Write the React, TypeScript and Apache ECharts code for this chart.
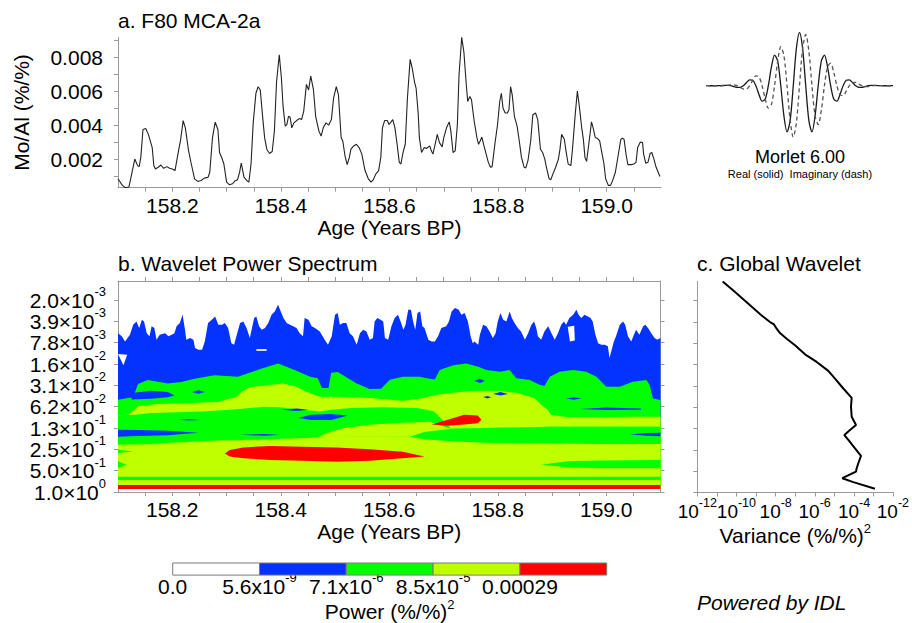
import React, { useEffect, useRef } from "react";
import * as echarts from "echarts";

const FONT = '"Liberation Sans", Arial, Helvetica, sans-serif';
const AXIS_GRAY = "#9a9a9a";
const FS = 21;

// ---------------- Panel a: Mo/Al time series ----------------
const ageYears = [
  158.100,158.108,158.114,158.120,158.124,158.131,158.136,158.139,158.142,158.146,
  158.151,158.156,158.163,158.166,158.169,158.174,158.179,158.184,158.190,158.195,
  158.200,158.205,158.212,158.215,158.220,158.224,158.230,158.235,158.241,158.247,
  158.253,158.259,158.266,158.269,158.274,158.279,158.284,158.287,158.292,158.295,
  158.300,158.305,158.311,158.315,158.320,158.324,158.327,158.332,158.337,158.341,
  158.345,158.349,158.354,158.358,158.362,158.366,158.370,158.374,158.379,158.384,
  158.388,158.392,158.397,158.401,158.404,158.408,158.411,158.414,158.417,158.420,
  158.424,158.429,158.434,158.438,158.442,158.447,158.451,158.455,158.460,158.464,
  158.470,158.474,158.478,158.483,158.488,158.493,158.497,158.502,158.506,158.511,
  158.514,158.518,158.522,158.526,158.529,158.534,158.539,158.544,158.549,158.555,
  158.561,158.566,158.570,158.575,158.580,158.584,158.587,158.591,158.596,158.599,
  158.603,158.606,158.610,158.614,158.618,158.621,158.625,158.629,158.633,158.638,
  158.642,158.646,158.649,158.653,158.655,158.659,158.664,158.668,158.674,158.677,
  158.680,158.684,158.688,158.692,158.697,158.700,158.705,158.710,158.713,158.717,
  158.721,158.725,158.728,158.733,158.737,158.741,158.744,158.748,158.751,158.756,
  158.761,158.764,158.767,158.770,158.774,158.778,158.782,158.786,158.789,158.794,
  158.799,158.803,158.806,158.809,158.813,158.817,158.820,158.823,158.826,158.830,
  158.835,158.839,158.843,158.848,158.851,158.855,158.860,158.864,158.869,158.873,
  158.878,158.882,158.886,158.889,158.894,158.897,158.901,158.906,158.911,158.914,
  158.917,158.922,158.925,158.929,158.934,158.937,158.942,158.946,158.950,158.954,
  158.957,158.960,158.963,158.967,158.972,158.975,158.979,158.983,158.987,158.991,
  158.995,158.998,159.003,159.007,159.011,159.016,159.021,159.026,159.029,159.032,
  159.036,159.039,159.045,159.050,159.054,159.057,159.062,159.066,159.068,159.072,
  159.076,159.080,159.083,159.087,159.091,159.098,
];
const moAl = [
  0.000864,0.000477,0.000341,0.000380,0.000961,0.002027,0.001640,0.001581,0.002124,0.003771,
  0.003829,0.003481,0.002705,0.001640,0.001446,0.001543,0.001678,0.001484,0.001581,0.001484,
  0.001446,0.001349,0.002609,0.003093,0.004295,0.003868,0.002512,0.001736,0.000864,0.000709,
  0.000767,0.000903,0.000961,0.001252,0.003287,0.004198,0.003771,0.002415,0.002027,0.001736,
  0.000671,0.000516,0.000574,0.000729,0.000806,0.001252,0.001795,0.000961,0.000767,0.000671,
  0.001736,0.004159,0.005903,0.006291,0.006097,0.004643,0.003287,0.002609,0.002357,0.002473,
  0.003674,0.006581,0.008171,0.006775,0.005128,0.003965,0.004062,0.004547,0.004488,0.003868,
  0.004159,0.004295,0.004411,0.004353,0.004837,0.006426,0.006097,0.006911,0.006097,0.004547,
  0.003674,0.003384,0.003868,0.004159,0.004023,0.004353,0.005612,0.006291,0.005806,0.003287,
  0.003093,0.002221,0.001698,0.002124,0.002609,0.002802,0.002899,0.002705,0.002318,0.001349,
  0.000864,0.000671,0.000806,0.001155,0.001349,0.002124,0.003868,0.004295,0.004295,0.004062,
  0.004217,0.004353,0.003868,0.002899,0.001833,0.001736,0.002415,0.002899,0.005612,0.007899,
  0.007357,0.006581,0.006194,0.004643,0.003287,0.002415,0.002705,0.002647,0.002802,0.002512,
  0.002318,0.002899,0.003481,0.002996,0.002744,0.003287,0.003868,0.004217,0.003674,0.002415,
  0.002512,0.004062,0.006969,0.009198,0.008326,0.006581,0.005419,0.005709,0.005516,0.004256,
  0.003287,0.002899,0.003093,0.003326,0.002802,0.002318,0.001833,0.001543,0.001581,0.002899,
  0.004062,0.005419,0.005903,0.005031,0.004740,0.004740,0.004934,0.006291,0.005806,0.004547,
  0.003965,0.003093,0.002124,0.001543,0.001504,0.001930,0.003093,0.004643,0.004740,0.004353,
  0.002609,0.002415,0.002027,0.001543,0.000864,0.000806,0.001155,0.001543,0.002027,0.002609,
  0.003481,0.003190,0.002512,0.001736,0.001640,0.002609,0.004643,0.006039,0.005031,0.003868,
  0.003190,0.002124,0.001891,0.002899,0.004217,0.003868,0.003287,0.003248,0.003093,0.002415,
  0.001736,0.000864,0.000477,0.000477,0.000767,0.001252,0.002221,0.003190,0.003248,0.003190,
  0.002221,0.001698,0.001698,0.001736,0.001833,0.002705,0.003035,0.002996,0.002318,0.001775,
  0.001833,0.002357,0.002415,0.002027,0.001543,0.001000,
];
const ageRange = [158.1, 159.1];
const moAlRange = [0.00034, 0.0092];
const ageTicks = [158.15,158.2,158.25,158.3,158.35,158.4,158.45,158.5,158.55,158.6,158.65,158.7,158.75,158.8,158.85,158.9,158.95,159.0,159.05];
const ageLabelTicks = [158.2, 158.4, 158.6, 158.8, 159.0];
const moAlTicks = [0.001,0.002,0.003,0.004,0.005,0.006,0.007,0.008,0.009];
const moAlLabelTicks = [0.002, 0.004, 0.006, 0.008];

// ---------------- Panel b: wavelet power spectrum ----------------
// power levels: 0 = <5.6e-9, 1 = 5.6e-9.., 2 = 7.1e-6.., 3 = 8.5e-5.., 4 = >0.00029
const powerLevelMantissa = ["0.0", "5.6x10", "7.1x10", "8.5x10", "0.00029"];
const powerLevelExponent = ["", "-9", "-6", "-5", ""];
const levelColors = ["#ffffff", "#0433ff", "#00ff00", "#bfff00", "#ff0000"];

const periodRange = [0.00105, 1];
const periodTicks = [0.001953125, 0.00390625, 0.0078125, 0.015625, 0.03125, 0.0625, 0.125, 0.25, 0.5, 1];
const periodMantissa = ["2.0", "3.9", "7.8", "1.6", "3.1", "6.2", "1.3", "2.5", "5.0", "1.0"];
const periodExponent = ["-3", "-3", "-3", "-2", "-2", "-2", "-1", "-1", "-1", "0"];

// Contour outlines: points are [age, log2(period)]
const spectrumFloor = -0.14;
const blueTop = [
  [158.100,-7.45],[158.107,-7.30],[158.113,-7.06],[158.122,-7.38],[158.128,-7.84],[158.134,-8.00],[158.139,-7.69],[158.144,-8.08],[158.148,-8.00],[158.153,-7.45],
  [158.158,-7.30],[158.162,-7.77],[158.167,-7.69],[158.171,-7.14],[158.177,-7.38],[158.187,-7.45],[158.193,-7.30],[158.199,-7.38],[158.204,-7.45],[158.208,-7.77],
  [158.214,-7.92],[158.219,-8.31],[158.223,-7.69],[158.226,-7.14],[158.233,-7.22],[158.239,-7.14],[158.242,-6.75],[158.248,-6.67],[158.255,-6.67],[158.260,-7.06],
  [158.266,-7.92],[158.273,-8.08],[158.279,-8.23],[158.285,-7.84],[158.292,-7.84],[158.297,-7.92],[158.303,-7.69],[158.309,-6.98],[158.314,-6.91],[158.319,-7.38],
  [158.325,-7.92],[158.331,-8.00],[158.337,-7.69],[158.343,-7.22],[158.351,-8.16],[158.355,-8.23],[158.360,-7.77],[158.365,-7.61],[158.371,-7.69],[158.377,-7.92],
  [158.383,-8.31],[158.389,-8.47],[158.395,-8.78],[158.400,-8.47],[158.405,-8.16],[158.411,-7.92],[158.417,-7.84],[158.423,-7.77],[158.429,-7.69],[158.435,-7.45],
  [158.441,-7.30],[158.444,-8.16],[158.451,-8.08],[158.457,-7.77],[158.463,-7.69],[158.472,-7.53],[158.481,-7.14],[158.487,-6.91],[158.494,-7.30],[158.500,-8.31],
  [158.505,-8.39],[158.509,-7.84],[158.515,-7.92],[158.521,-7.92],[158.527,-7.45],[158.533,-7.30],[158.540,-6.91],[158.546,-7.45],[158.552,-7.61],[158.558,-7.53],
  [158.564,-7.14],[158.570,-7.22],[158.573,-8.00],[158.578,-8.16],[158.584,-8.08],[158.589,-8.00],[158.592,-7.22],[158.598,-7.14],[158.604,-7.77],[158.610,-8.16],
  [158.616,-8.31],[158.621,-8.00],[158.626,-7.61],[158.630,-7.84],[158.635,-8.55],[158.640,-8.55],[158.644,-8.00],[158.648,-7.61],[158.652,-8.39],[158.657,-8.47],
  [158.661,-7.77],[158.665,-7.69],[158.672,-7.14],[158.678,-7.06],[158.684,-7.06],[158.690,-7.30],[158.696,-7.69],[158.705,-7.77],[158.710,-8.00],[158.715,-8.47],
  [158.721,-8.63],[158.728,-8.55],[158.733,-8.31],[158.739,-8.39],[158.745,-8.00],[158.750,-7.30],[158.754,-6.98],[158.757,-7.06],[158.764,-6.91],[158.767,-7.38],
  [158.773,-7.84],[158.779,-7.77],[158.785,-7.53],[158.791,-7.22],[158.796,-7.45],[158.800,-8.00],[158.805,-8.39],[158.810,-8.08],[158.816,-8.00],[158.822,-8.47],
  [158.826,-8.16],[158.831,-7.92],[158.837,-7.69],[158.843,-7.53],[158.850,-7.14],[158.856,-7.45],[158.862,-7.84],[158.867,-8.00],[158.871,-7.69],[158.874,-7.30],
  [158.880,-7.14],[158.886,-7.53],[158.893,-7.77],[158.899,-7.45],[158.905,-7.14],[158.911,-7.45],[158.917,-7.84],[158.922,-8.00],[158.926,-7.84],[158.932,-8.16],
  [158.939,-8.31],[158.945,-8.55],[158.949,-8.31],[158.954,-8.16],[158.960,-8.31],[158.966,-8.23],[158.971,-8.16],[158.975,-8.00],[158.980,-7.38],[158.985,-6.98],
  [158.991,-6.91],[158.997,-6.91],[159.003,-6.83],[159.006,-6.28],[159.010,-6.67],[159.014,-7.06],[159.018,-7.30],[159.025,-7.84],[159.031,-8.00],[159.035,-7.84],
  [159.040,-7.30],[159.046,-7.06],[159.051,-7.38],[159.055,-7.61],[159.061,-7.38],[159.068,-7.77],[159.072,-7.84],[159.077,-7.69],[159.083,-7.45],[159.089,-7.22],
  [159.094,-7.14],[159.100,-7.22],
];
const greenTop1 = [
  [158.100,-4.33],[158.128,-4.44],[158.137,-5.06],[158.155,-5.25],[158.192,-5.09],[158.217,-5.16],[158.241,-5.31],[158.278,-5.47],[158.321,-5.41],[158.364,-5.78],
  [158.395,-6.03],[158.429,-5.69],[158.454,-5.41],[158.468,-5.34],[158.476,-4.875],[158.488,-4.875],[158.493,-5.59],[158.505,-5.625],[158.540,-5.09],[158.564,-4.83],
  [158.585,-4.84],[158.601,-5.27],[158.625,-5.41],[158.656,-5.41],[158.675,-5.31],[158.684,-5.28],[158.693,-5.72],[158.718,-5.95],[158.742,-6.03],[158.764,-5.875],
  [158.779,-5.72],[158.804,-5.64],[158.822,-5.72],[158.834,-5.33],[158.859,-5.25],[158.877,-5.03],[158.886,-4.97],[158.896,-5.41],[158.914,-5.64],[158.939,-5.72],
  [158.963,-5.64],[158.982,-5.41],[159.000,-4.94],[159.025,-4.94],[159.049,-5.17],[159.074,-5.25],[159.080,-5.02],[159.086,-4.39],[159.100,-4.31],
];
const ygTop1 = [
  [158.100,-3.59],[158.119,-3.625],[158.137,-4.02],[158.174,-4.125],[158.223,-4.16],[158.284,-4.22],[158.319,-4.47],[158.328,-4.70],[158.343,-4.91],[158.380,-5.02],
  [158.404,-5.09],[158.429,-4.94],[158.447,-4.70],[158.472,-4.47],[158.503,-4.47],[158.564,-4.41],[158.625,-4.28],[158.656,-4.375],[158.689,-4.56],[158.714,-4.64],
  [158.745,-4.72],[158.775,-4.75],[158.806,-4.72],[158.837,-4.64],[158.867,-4.41],[158.880,-4.09],[158.892,-3.86],[158.898,-3.625],[158.929,-3.5],[158.990,-3.5],
  [159.051,-3.53],[159.100,-3.53],
];
const greenTop2 = [
  [158.100,-3.59],[158.119,-3.61],[158.137,-3.64],[158.161,-3.70],[158.257,-3.77],[158.319,-3.875],[158.368,-4.0],[158.398,-3.97],[158.472,-3.77],[158.493,-3.86],
  [158.530,-3.94],[158.591,-3.97],[158.652,-3.94],[158.683,-3.78],[158.714,-2.97],[158.775,-3.0],[158.837,-3.03],[158.898,-3.06],[158.990,-3.06],[159.100,-3.06],
];
const ygTop2 = [
  [158.100,-2.22],[158.161,-2.25],[158.223,-2.34],[158.284,-2.41],[158.346,-2.45],[158.407,-2.5],[158.468,-2.56],[158.484,-2.75],[158.517,-3.0],[158.567,-3.16],
  [158.628,-3.25],[158.675,-3.30],[158.714,-2.97],[158.775,-3.0],[158.837,-3.03],[158.898,-3.06],[158.990,-3.06],[159.100,-3.06],
];
const greenTop3 = [
  [158.100,-2.20],[158.161,-2.23],[158.223,-2.33],[158.284,-2.39],[158.346,-2.44],[158.407,-2.48],[158.468,-2.55],[158.484,-2.58],[158.638,-2.59],[158.665,-2.81],
  [158.714,-2.97],[158.775,-3.0],[158.837,-3.03],[158.898,-3.06],[158.990,-3.06],[159.100,-3.06],
];
const ygTop3 = [
  [158.100,-2.20],[158.161,-2.23],[158.223,-2.33],[158.284,-2.39],[158.346,-2.44],[158.407,-2.48],[158.468,-2.55],[158.484,-2.58],[158.638,-2.59],[158.665,-2.47],
  [158.714,-2.375],[158.775,-2.31],[158.898,-2.27],[158.990,-2.25],[159.100,-2.25],
];
const spectrumLayers = [
  { level: 1, top: blueTop },
  { level: 2, top: greenTop1 },
  { level: 3, top: ygTop1 },
  { level: 2, top: greenTop2 },
  { level: 3, top: ygTop2 },
  { level: 2, top: greenTop3 },
  { level: 3, top: ygTop3 },
];
const spectrumIslands = [
  { level: 1, outline: [[158.125,-4.64],[158.161,-4.75],[158.192,-4.69],[158.204,-4.53],[158.192,-4.44],[158.161,-4.375],[158.125,-4.34]] },
  { level: 1, outline: [[158.100,-2.92],[158.137,-2.91],[158.192,-2.875],[158.248,-2.78],[158.192,-2.66],[158.137,-2.625],[158.100,-2.59]] },
  { level: 1, outline: [[158.211,-3.39],[158.230,-3.42],[158.251,-3.38],[158.230,-3.35]] },
  { level: 1, outline: [[158.325,-2.68],[158.370,-2.72],[158.398,-2.68],[158.370,-2.64]] },
  { level: 1, outline: [[158.236,-4.69],[158.248,-4.77],[158.260,-4.69],[158.248,-4.61]] },
  { level: 1, outline: [[158.401,-3.86],[158.430,-3.92],[158.451,-3.86],[158.430,-3.80]] },
  { level: 1, outline: [[158.432,-3.47],[158.456,-3.62],[158.493,-3.66],[158.524,-3.59],[158.493,-3.375],[158.456,-3.375]] },
  { level: 1, outline: [[158.757,-5.2],[158.766,-5.31],[158.776,-5.22],[158.768,-5.11]] },
  { level: 1, outline: [[158.773,-4.45],[158.781,-4.5],[158.788,-4.44],[158.781,-4.39]] },
  { level: 1, outline: [[158.791,-4.6],[158.805,-4.69],[158.819,-4.6],[158.805,-4.53]] },
  { level: 1, outline: [[158.926,-4.39],[158.940,-4.44],[158.954,-4.39],[158.940,-4.33]] },
  { level: 1, outline: [[158.951,-3.89],[159.0,-3.96],[159.064,-3.92],[159.064,-3.86],[159.0,-3.85]] },
  { level: 1, outline: [[159.043,-2.70],[159.075,-2.77],[159.1,-2.78],[159.1,-2.61],[159.075,-2.64]] },
  { level: 4, outline: [[158.297,-1.81],[158.306,-1.97],[158.331,-2.09],[158.380,-2.16],[158.441,-2.125],[158.503,-2.09],[158.564,-2.0],[158.625,-1.89],[158.665,-1.66],[158.625,-1.58],[158.564,-1.47],[158.503,-1.42],[158.441,-1.47],[158.380,-1.5],[158.331,-1.58],[158.306,-1.66]] },
  { level: 4, outline: [[158.678,-3.16],[158.708,-3.39],[158.738,-3.625],[158.763,-3.59],[158.770,-3.39],[158.763,-3.23],[158.738,-3.16],[158.708,-3.11]] },
  { level: 2, outline: [[158.880,-1.28],[158.929,-1.44],[158.990,-1.48],[159.1,-1.5],[159.1,-1.11],[158.990,-1.11],[158.929,-1.16]] },
  { level: 2, outline: [[158.1,-1.98],[158.128,-1.9],[158.1,-1.83]] },
  { level: 2, outline: [[158.1,-1.44],[158.116,-1.28],[158.1,-1.125]] },
  { level: 2, outline: [[158.1,-0.72],[159.1,-0.72],[159.1,-0.56],[158.1,-0.56]] },
  { level: 4, outline: [[158.1,-0.33],[159.1,-0.33],[159.1,-0.14],[158.1,-0.14]] },
  { level: 0, outline: [[158.1,-6.47],[158.117,-6.44],[158.110,-5.94]] },
  { level: 0, outline: [[158.929,-7.75],[158.941,-7.8],[158.942,-7.1],[158.933,-7.06]] },
  { level: 0, outline: [[158.355,-6.7],[158.374,-6.7],[158.374,-6.62],[158.355,-6.62]] },
];

// ---------------- Panel c: global wavelet spectrum ----------------
const gwsPeriod = [0.001052,0.001408,0.002055,0.003164,0.003928,0.004236,0.004873,0.00561,0.006735,0.00836,0.01119,0.01435,0.01921,0.02462,0.03403,0.04603,0.06164,0.08519,0.1116,0.1312,0.1543,0.1814,0.2377,0.3046,0.3864,0.4541,0.5059,0.6283,0.7146,0.887];
const gwsVariance = [1.97e-11,6.89e-11,3.30e-10,1.92e-9,5.12e-9,8.18e-9,1.12e-8,1.66e-8,3.63e-8,9.66e-8,3.13e-7,1.23e-6,4.84e-6,1.06e-5,2.82e-5,7.52e-5,6.95e-5,7.52e-5,1.25e-4,6.18e-5,3.18e-5,5.08e-5,1.11e-4,2.25e-4,1.64e-4,1.35e-4,1.25e-4,2.51e-5,9.14e-5,1.16e-3];
const varianceRange = [1e-12, 1e-2];
const varianceTicks = [1e-12,1e-11,1e-10,1e-9,1e-8,1e-7,1e-6,1e-5,1e-4,1e-3,1e-2];
const varianceLabelTicks = [1e-12,1e-10,1e-8,1e-6,1e-4,1e-2];
const varianceExponent = ["-12","-10","-8","-6","-4","-2"];

// ---------------- Morlet wavelet inset ----------------
const morletReal = [0,-0.0005,-0.0012,-0.0014,0,0.0033,0.0072,0.0076,0,-0.0162,-0.0325,-0.0321,0,0.0595,0.1116,0.1029,0,-0.1662,-0.2912,-0.2508,0,0.3533,0.578,0.4647,0,-0.5708,-0.8719,-0.6546,0,0.7011,1,0.7011,0,-0.6546,-0.8719,-0.5708,0,0.4647,0.578,0.3533,0,-0.2508,-0.2912,-0.1662,0,0.1029,0.1116,0.0595,0,-0.0321,-0.0325,-0.0162,0,0.0076,0.0072,0.0033,0,-0.0014,-0.0012,-0.0005,0];
const morletImag = [0.0005,0.0005,0,-0.0014,-0.0031,-0.0033,0,0.0076,0.0158,0.0162,0,-0.0321,-0.0623,-0.0595,0,0.1029,0.1866,0.1662,0,-0.2508,-0.4246,-0.3533,0,0.4647,0.7346,0.5708,0,-0.6546,-0.9663,-0.7011,0,0.7011,0.9663,0.6546,0,-0.5708,-0.7346,-0.4647,0,0.3533,0.4246,0.2508,0,-0.1662,-0.1866,-0.1029,0,0.0595,0.0623,0.0321,0,-0.0162,-0.0158,-0.0076,0,0.0033,0.0031,0.0014,0,-0.0005,-0.0005];

// ---------------- option ----------------
const txt = (size: number) => ({ fontFamily: FONT, fontSize: size, color: "#000" });
const supRich = (main: number, sup: number, lh: number) => ({
  m: { fontFamily: FONT, fontSize: main, color: "#000", lineHeight: lh },
  e: { fontFamily: FONT, fontSize: sup, color: "#000", lineHeight: sup + 1, verticalAlign: "top" },
});
const axisLineStyle = { show: true, lineStyle: { color: AXIS_GRAY, width: 1 } };
const tickStyle = (vals: number[], len = 4) => ({ show: true, length: len, inside: false, customValues: vals, lineStyle: { color: AXIS_GRAY, width: 1 } });
const showEnds = { showMinLabel: true, showMaxLabel: true, hideOverlap: false };
const evenOnes = (arr: number[]) => arr.filter((_, i) => i % 2 === 0);
const oddOnes = (arr: number[]) => arr.filter((_, i) => i % 2 === 1);

function findIdx(arr: number[], v: number, log: (x: number) => number) {
  let best = 0, bd = Infinity;
  arr.forEach((t, i) => { const d = Math.abs(log(t) - log(v)); if (d < bd) { bd = d; best = i; } });
  return best;
}

const GRID_A = { left: 118, top: 37.3, width: 543, height: 150.4 };
const GRID_B = { left: 118, top: 281, width: 542.5, height: 211 };
const GRID_C = { left: 697.3, top: 281.5, width: 196, height: 211 };

function buildOption() {
  const polys: { level: number; pts: number[][] }[] = [];
  spectrumLayers.forEach((l) => {
    polys.push({ level: l.level, pts: [...l.top, [ageRange[1], spectrumFloor], [ageRange[0], spectrumFloor]] });
  });
  spectrumIslands.forEach((isl) => polys.push({ level: isl.level, pts: isl.outline }));

  const periodLabel = (v: number) => {
    const i = findIdx(periodTicks, v, Math.log2);
    return `{m|${periodMantissa[i]}\u00d710}{e|${periodExponent[i]}}`;
  };
  const varianceLabel = (v: number) => {
    const i = findIdx(varianceLabelTicks, v, Math.log10);
    return `{m|10}{e|${varianceExponent[i]}}`;
  };
  const periodLabelAxis = (grid: number, vals: number[], withLine: boolean) => ({
    type: "log", logBase: 2, inverse: true, gridIndex: grid, position: "left", min: periodRange[0], max: periodRange[1],
    axisLine: withLine ? axisLineStyle : { show: false },
    axisTick: withLine ? tickStyle(periodTicks) : { show: false },
    splitLine: { show: false },
    axisLabel: { ...showEnds, customValues: vals, margin: 12, formatter: periodLabel, rich: supRich(FS, 13, 30) },
  });
  const varianceLabelAxis = (grid: number, vals: number[], withLine: boolean) => ({
    type: "log", logBase: 10, gridIndex: grid, position: "bottom", min: varianceRange[0], max: varianceRange[1],
    axisLine: withLine ? axisLineStyle : { show: false },
    axisTick: withLine ? tickStyle(varianceTicks) : { show: false },
    splitLine: { show: false },
    axisLabel: { ...showEnds, customValues: vals, margin: 4, formatter: varianceLabel, rich: supRich(19, 12.5, 30) },
  });

  return {
    animation: false,
    backgroundColor: "#ffffff",
    grid: [
      GRID_A,
      GRID_B,
      GRID_C,
      { left: 706, top: 32.7, width: 187, height: 106 },
      { left: 172.7, top: 563, width: 434, height: 16.3 },
      GRID_B,
      GRID_C,
    ],
    xAxis: [
      {
        type: "value", gridIndex: 0, min: ageRange[0], max: ageRange[1],
        axisLine: axisLineStyle, axisTick: tickStyle(ageTicks), splitLine: { show: false },
        axisLabel: { ...txt(FS), ...showEnds, margin: 7, customValues: ageLabelTicks, formatter: (v: number) => v.toFixed(1) },
        name: "Age (Years BP)", nameLocation: "middle", nameGap: 28, nameTextStyle: txt(FS),
      },
      {
        type: "value", gridIndex: 1, position: "bottom", min: ageRange[0], max: ageRange[1],
        axisLine: axisLineStyle, axisTick: tickStyle(ageTicks), splitLine: { show: false },
        axisLabel: { ...txt(FS), ...showEnds, margin: 7, customValues: ageLabelTicks, formatter: (v: number) => v.toFixed(1) },
        name: "Age (Years BP)", nameLocation: "middle", nameGap: 28, nameTextStyle: txt(FS),
      },
      {
        type: "value", gridIndex: 1, position: "top", min: ageRange[0], max: ageRange[1],
        axisLine: axisLineStyle, axisTick: tickStyle(ageTicks), splitLine: { show: false },
        axisLabel: { show: false },
      },
      {
        ...varianceLabelAxis(2, evenOnes(varianceLabelTicks), true),
        name: "{m|Variance (%/%)}{e|2}", nameLocation: "middle", nameGap: 28,
        nameTextStyle: { rich: supRich(FS, 13, 28) },
      },
      { type: "category", gridIndex: 3, show: false, boundaryGap: false, data: morletReal.map((_, i) => i) },
      {
        type: "value", gridIndex: 4, min: 0, max: powerLevelMantissa.length,
        axisLine: { show: false }, axisTick: { show: false }, splitLine: { show: false },
        axisLabel: {
          ...showEnds,
          customValues: powerLevelMantissa.map((_, i) => i), margin: -4,
          formatter: (v: number) => {
            const i = Math.round(v);
            return powerLevelExponent[i] ? `{m|${powerLevelMantissa[i]}}{e|${powerLevelExponent[i]}}` : `{m|${powerLevelMantissa[i]}}`;
          },
          rich: supRich(FS, 13, 30),
        },
        name: "{m|Power (%/%)}{e|2}", nameLocation: "middle", nameGap: 20,
        nameTextStyle: { rich: supRich(FS, 13, 28) },
      },
      { type: "value", gridIndex: 5, show: false, min: ageRange[0], max: ageRange[1] },
      varianceLabelAxis(6, oddOnes(varianceLabelTicks), false),
    ],
    yAxis: [
      {
        type: "value", gridIndex: 0, min: moAlRange[0], max: moAlRange[1],
        axisLine: axisLineStyle, axisTick: tickStyle(moAlTicks), splitLine: { show: false },
        axisLabel: { ...txt(FS), ...showEnds, margin: 15, customValues: moAlLabelTicks, formatter: (v: number) => v.toFixed(3) },
        name: "Mo/Al (%/%)", nameLocation: "middle", nameRotate: 90, nameGap: 86, nameTextStyle: txt(FS),
      },
      periodLabelAxis(1, evenOnes(periodTicks), true),
      {
        type: "log", logBase: 2, inverse: true, gridIndex: 1, position: "right", min: periodRange[0], max: periodRange[1],
        axisLine: axisLineStyle, axisTick: tickStyle(periodTicks), splitLine: { show: false }, axisLabel: { show: false },
      },
      {
        type: "log", logBase: 2, inverse: true, gridIndex: 2, min: periodRange[0], max: periodRange[1],
        axisLine: axisLineStyle, axisTick: tickStyle(periodTicks), splitLine: { show: false }, axisLabel: { show: false },
      },
      { type: "value", gridIndex: 3, show: false, min: -1, max: 1 },
      { type: "value", gridIndex: 4, show: false, min: 0, max: 1 },
      periodLabelAxis(5, oddOnes(periodTicks), false),
      { type: "value", gridIndex: 6, show: false, min: 0, max: 1 },
    ],
    graphic: [
      { type: "text", x: 118, y: 20, style: { text: "a. F80 MCA-2a", fontFamily: FONT, fontSize: 21, fill: "#000", verticalAlign: "middle" } },
      { type: "text", x: 118, y: 263, style: { text: "b. Wavelet Power Spectrum", fontFamily: FONT, fontSize: 21, fill: "#000", verticalAlign: "middle" } },
      { type: "text", x: 697, y: 263, style: { text: "c. Global Wavelet", fontFamily: FONT, fontSize: 21, fill: "#000", verticalAlign: "middle" } },
      { type: "text", x: 800, y: 157, style: { text: "Morlet 6.00", fontFamily: FONT, fontSize: 18, fill: "#000", align: "center", verticalAlign: "middle" } },
      { type: "text", x: 800, y: 174, style: { text: "Real (solid)  Imaginary (dash)", fontFamily: FONT, fontSize: 11, fill: "#000", align: "center", verticalAlign: "middle" } },
      { type: "text", x: 697, y: 602, style: { text: "Powered by IDL", fontFamily: FONT, fontSize: 21, fontStyle: "italic", fill: "#000", verticalAlign: "middle" } },
    ],
    series: [
      {
        type: "line", xAxisIndex: 0, yAxisIndex: 0, data: ageYears.map((a, i) => [a, moAl[i]]),
        showSymbol: false, symbol: "none", lineStyle: { color: "#222", width: 1.1 }, silent: true,
      },
      {
        type: "custom", xAxisIndex: 1, yAxisIndex: 1, silent: true, clip: true,
        data: polys.map((_, i) => [158.5, 0.01, i]),
        renderItem: (params: any, api: any) => {
          const p = polys[params.dataIndex];
          const points = p.pts.map(([a, o]) => api.coord([a, Math.pow(2, o)]));
          return { type: "polygon", shape: { points }, style: { fill: levelColors[p.level], stroke: null } };
        },
      },
      {
        type: "line", xAxisIndex: 3, yAxisIndex: 3, data: gwsVariance.map((v, i) => [v, gwsPeriod[i]]),
        showSymbol: false, symbol: "none", lineStyle: { color: "#000", width: 2 }, silent: true,
      },
      {
        type: "line", xAxisIndex: 4, yAxisIndex: 4, data: morletReal, showSymbol: false, symbol: "none", smooth: 0.3,
        lineStyle: { color: "#1a1a1a", width: 1.3 }, silent: true,
      },
      {
        type: "line", xAxisIndex: 4, yAxisIndex: 4, data: morletImag, showSymbol: false, symbol: "none", smooth: 0.3,
        lineStyle: { color: "#555", width: 1.3, type: [4, 3] }, silent: true,
      },
      {
        type: "custom", xAxisIndex: 5, yAxisIndex: 5, silent: true,
        data: levelColors.map((_, i) => [i + 0.5, 0.5, i]),
        renderItem: (params: any, api: any) => {
          const i = params.dataIndex;
          const p0 = api.coord([i, 1]);
          const p1 = api.coord([i + 1, 0]);
          return {
            type: "rect",
            shape: { x: p0[0], y: p0[1], width: p1[0] - p0[0], height: p1[1] - p0[1] },
            style: { fill: levelColors[i], stroke: "#7a7a7a", lineWidth: 1 },
          };
        },
      },
    ],
  };
}

export default function App() {
  const ref = useRef<HTMLDivElement>(null);
  useEffect(() => {
    if (!ref.current) return;
    const chart = echarts.init(ref.current, null, { renderer: "svg" });
    chart.setOption(buildOption() as any);
    return () => chart.dispose();
  }, []);
  return (
    <div
      ref={ref}
      style={{ position: "fixed", left: 0, top: 0, width: 912, height: 623, background: "#fff" }}
    />
  );
}
